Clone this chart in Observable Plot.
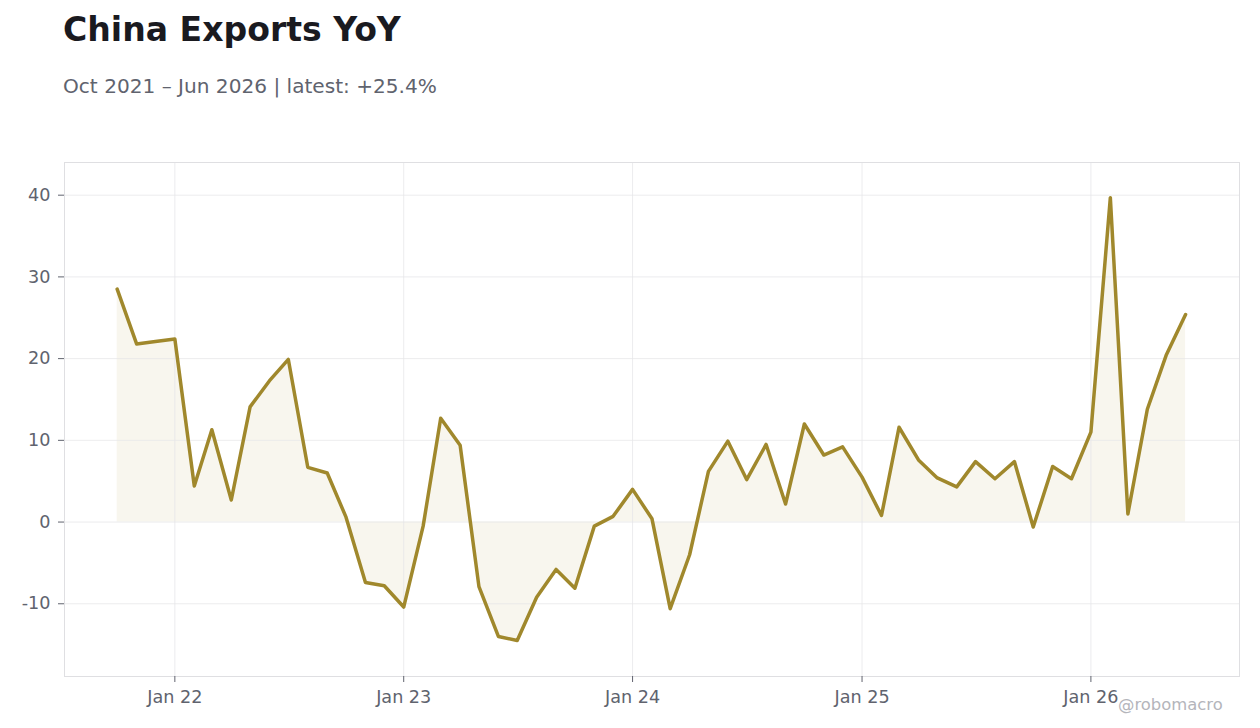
<!DOCTYPE html>
<html>
<head>
<meta charset="utf-8">
<script src="https://cdn.jsdelivr.net/npm/d3@7"></script>
<script src="https://cdn.jsdelivr.net/npm/@observablehq/plot@0.6"></script>
<style>
html,body{margin:0;padding:0;background:#fff;width:1260px;height:728px;overflow:hidden;font-family:"DejaVu Sans",sans-serif;position:relative}
#title{position:absolute;left:63px;top:10px;font-size:33.1px;font-weight:700;color:#1a1a1f;line-height:40px;white-space:nowrap}
#subtitle{position:absolute;left:63px;top:73px;font-size:20.1px;color:#60636e;line-height:26px;white-space:nowrap}
#chart{position:absolute;left:0;top:130px}
#credit{position:absolute;left:1118px;top:695px;font-size:16.4px;color:#b4b5bb;line-height:20px;white-space:nowrap}
svg{display:block}
</style>
</head>
<body>
<div id="title">China Exports YoY</div>
<div id="subtitle">Oct 2021 – Jun 2026 | latest: +25.4%</div>
<div id="chart"></div>
<div id="credit">@robomacro</div>
<script>
const startYear = 2021, startMonth = 9;
const yoy = [
  28.5, 21.8, 22.1,
  22.4, 4.4, 11.3, 2.7, 14.1, 17.3, 19.9, 6.7, 6.0, 0.6, -7.4, -7.8,
  -10.4, -0.5, 12.7, 9.4, -7.9, -14.0, -14.5, -9.2, -5.8, -8.1, -0.5, 0.7,
  4.0, 0.4, -10.6, -4.0, 6.2, 9.9, 5.2, 9.5, 2.2, 12.0, 8.2, 9.2,
  5.5, 0.8, 11.6, 7.6, 5.4, 4.3, 7.4, 5.3, 7.4, -0.6, 6.8, 5.3,
  11.0, 39.7, 1.0, 13.8, 20.4, 25.4
];
const xDomain = [new Date(Date.UTC(2021, 6, 9)), new Date(Date.UTC(2026, 7, 26))];
const yDomain = [-18.9, 44.0];
const xTicks = [2022, 2023, 2024, 2025, 2026].map(y => new Date(Date.UTC(y, 0, 1)));
const yTicks = [-10, 0, 10, 20, 30, 40];
const rows = yoy.map((v, i) => ({date: new Date(Date.UTC(startYear, startMonth + i, 1)), v}));
const lineColor = "#a0882c", textColor = "#60636e";

const plot = Plot.plot({
  width: 1260,
  height: 598,
  marginLeft: 64,
  marginRight: 21,
  marginTop: 32,
  marginBottom: 52,
  style: {fontFamily: '"DejaVu Sans", sans-serif', fontSize: "17.6px", background: "#fff", overflow: "visible"},
  x: {type: "utc", domain: xDomain},
  y: {domain: yDomain},
  marks: [
    Plot.areaY(rows, {x: "date", y1: 0, y2: "v", fill: lineColor, fillOpacity: 0.08}),
    Plot.ruleX(xTicks, {stroke: "#e6e6e8", strokeWidth: 1, strokeOpacity: 0.75}),
    Plot.ruleY(yTicks, {stroke: "#e6e6e8", strokeWidth: 1, strokeOpacity: 0.75}),
    Plot.lineY(rows, {x: "date", y: "v", stroke: lineColor, strokeWidth: 3.5, strokeLinejoin: "round", strokeLinecap: "round"}),
    Plot.frame({stroke: "#dfdfe2", strokeWidth: 1}),
    Plot.axisX({ticks: xTicks, tickFormat: d => "Jan " + String(d.getUTCFullYear()).slice(2), tickSize: 6, tickPadding: 8, color: textColor, stroke: textColor, fontSize: 17.6, label: null}),
    Plot.axisY({ticks: yTicks, tickFormat: d => String(d), tickSize: 6, tickPadding: 8, color: textColor, stroke: textColor, fontSize: 17.6, label: null})
  ]
});
document.getElementById("chart").appendChild(plot);
</script>
</body>
</html>
